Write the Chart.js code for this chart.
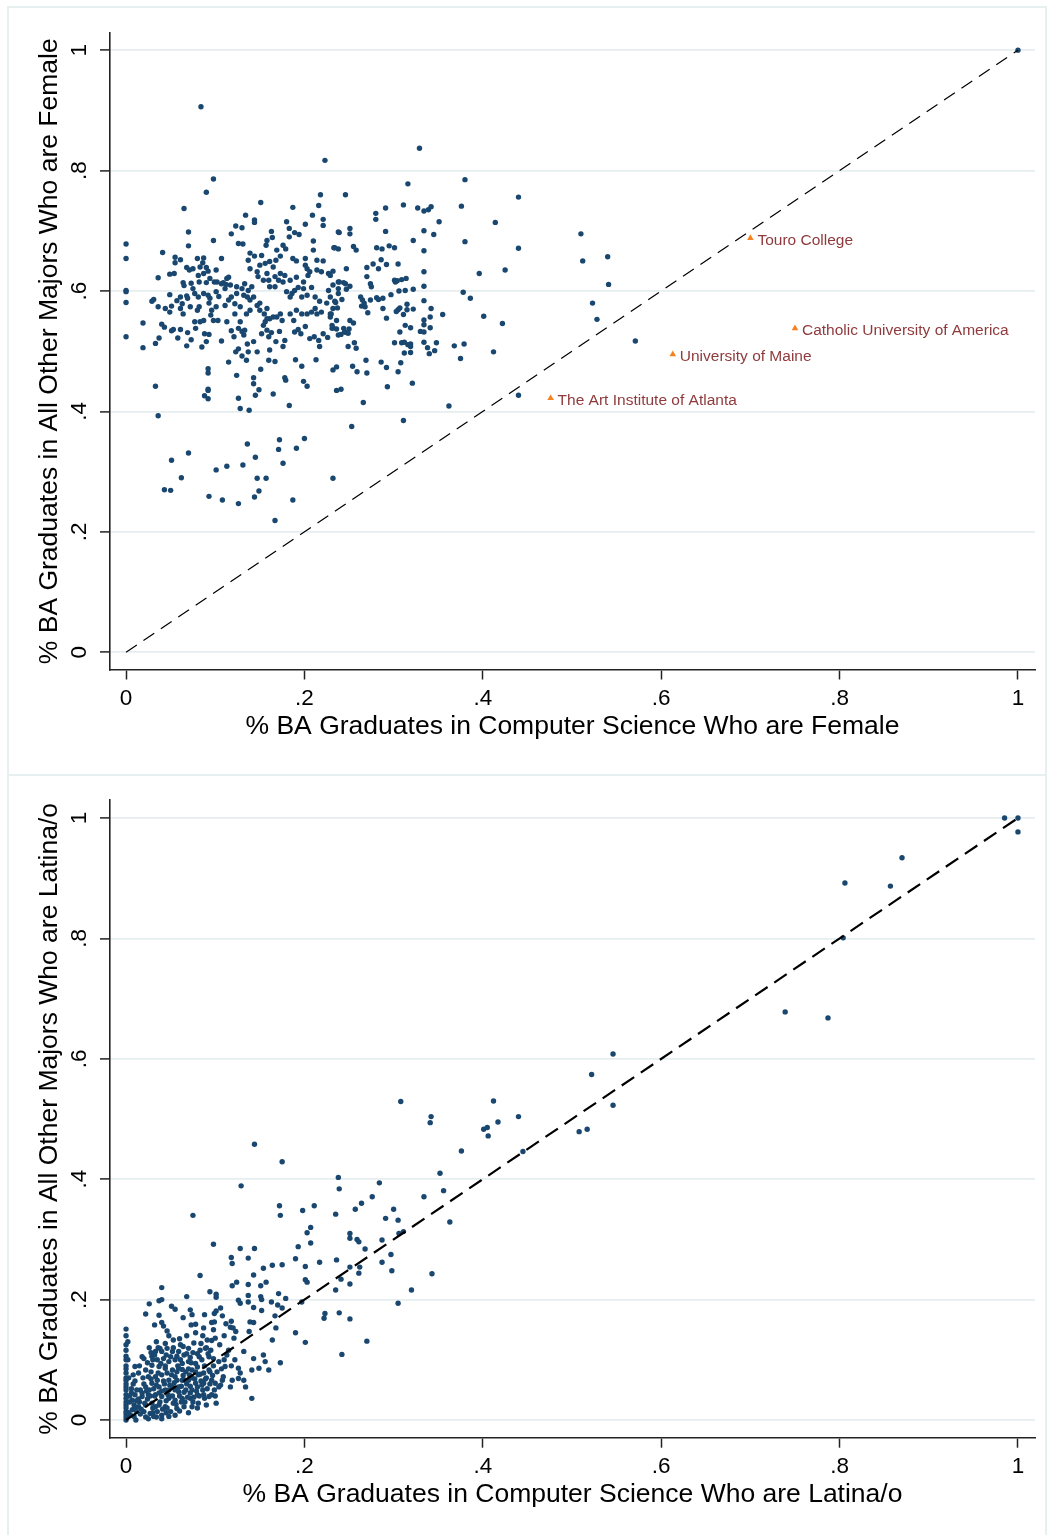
<!DOCTYPE html>
<html><head><meta charset="utf-8">
<script src="https://cdn.jsdelivr.net/npm/chart.js@4/dist/chart.umd.min.js"></script>
<style>
html,body{margin:0;padding:0;background:#fff;width:1048px;height:1535px;overflow:hidden}
.panel{position:absolute;left:7px;width:1040px;border:2px solid #e8eff1;box-sizing:border-box}
#p1{top:6px;height:770px}
#p2{top:774px;height:770px}
canvas{position:absolute;left:0}
#c1{top:0}
#c2{top:774px}
</style></head>
<body>
<div class="panel" id="p1"></div>
<div class="panel" id="p2"></div>
<canvas id="c1" width="1048" height="774"></canvas>
<canvas id="c2" width="1048" height="761"></canvas>
<script>
// ---------- DATA ----------
const tickValues = [0, 0.2, 0.4, 0.6, 0.8, 1];
const tickLabels = ["0", ".2", ".4", ".6", ".8", "1"];
const diagX = [0, 1];
const diagY = [0, 1];

// Panel 1: share female in CS (x) vs share female in all other majors (y)
const femalePoints = [
[0.223,0.817],[0.098,0.786],[0.090,0.764],[0.065,0.737],[0.218,0.760],[0.216,0.742],[0.187,0.739],[0.151,0.747],[0.134,0.726],[0.144,0.718],
[0.144,0.714],[0.209,0.726],[0.221,0.719],[0.221,0.709],[0.180,0.715],[0.183,0.704],[0.189,0.697],[0.194,0.694],[0.183,0.690],[0.201,0.711],
[0.123,0.708],[0.130,0.705],[0.118,0.695],[0.163,0.699],[0.164,0.689],[0.070,0.698],[0.070,0.675],[0.098,0.684],[0,0.678],[0,0.654],
[0,0.601],[0,0.599],[0,0.581],[0,0.524],[0.041,0.664],[0.158,0.684],[0.157,0.676],[0.126,0.679],[0.131,0.678],[0.055,0.656],
[0.061,0.652],[0.055,0.647],[0.080,0.654],[0.087,0.655],[0.086,0.647],[0.107,0.654],[0.137,0.651],[0.139,0.663],[0.144,0.658],[0.152,0.659],
[0.169,0.668],[0.173,0.658],[0.168,0.651],[0.176,0.676],[0.179,0.670],[0.187,0.654],[0.191,0.650],[0.201,0.654],[0.201,0.643],[0.203,0.637],
[0.210,0.683],[0.210,0.668],[0.214,0.651],[0.221,0.650],[0.233,0.672],[0.238,0.670],[0.238,0.698],[0.068,0.639],[0.071,0.635],[0.075,0.637],
[0.083,0.640],[0.090,0.639],[0.092,0.633],[0.101,0.635],[0.036,0.622],[0.049,0.628],[0.054,0.629],[0.081,0.626],[0.087,0.629],[0.082,0.615],
[0.094,0.621],[0.099,0.615],[0.090,0.614],[0.064,0.614],[0.065,0.609],[0.073,0.613],[0.113,0.621],[0.115,0.623],[0.109,0.614],[0.112,0.611],
[0.029,0.583],[0.031,0.586],[0.036,0.574],[0.044,0.571],[0.049,0.565],[0.051,0.575],[0.057,0.584],[0.061,0.590],[0.063,0.579],[0.064,0.562],
[0.061,0.571],[0.049,0.594],[0.068,0.592],[0.069,0.588],[0.072,0.574],[0.080,0.568],[0.082,0.574],[0.077,0.549],[0.083,0.549],[0.087,0.551],
[0.092,0.593],[0.094,0.588],[0.093,0.580],[0.101,0.599],[0.104,0.591],[0.101,0.574],[0.095,0.560],[0.098,0.551],[0.103,0.551],[0.096,0.568],
[0.019,0.547],[0.040,0.545],[0.043,0.540],[0.051,0.534],[0.053,0.536],[0.061,0.536],[0.058,0.522],[0.037,0.522],[0.033,0.513],[0.019,0.506],
[0.069,0.531],[0.073,0.519],[0.068,0.509],[0.078,0.538],[0.085,0.507],[0.090,0.516],[0.088,0.529],[0.093,0.528],[0.107,0.517],[0.113,0.549],
[0.115,0.482],[0.124,0.460],[0.092,0.471],[0.092,0.464],[0.033,0.442],[0.092,0.437],[0.118,0.534],[0.121,0.524],[0.126,0.538],[0.130,0.533],
[0.133,0.535],[0.132,0.527],[0.128,0.549],[0.122,0.562],[0.123,0.499],[0.126,0.504],[0.130,0.492],[0.136,0.512],[0.137,0.499],[0.135,0.485],
[0.143,0.516],[0.147,0.499],[0.151,0.470],[0.143,0.456],[0.143,0.446],[0.139,0.568],[0.135,0.562],[0.147,0.576],[0.150,0.580],[0.150,0.568],
[0.155,0.562],[0.158,0.571],[0.156,0.549],[0.154,0.543],[0.158,0.554],[0.161,0.554],[0.165,0.557],[0.169,0.557],[0.173,0.562],[0.175,0.551],
[0.152,0.529],[0.158,0.535],[0.160,0.524],[0.163,0.531],[0.168,0.516],[0.172,0.533],[0.161,0.502],[0.160,0.485],[0.167,0.483],[0.176,0.508],
[0.178,0.518],[0.178,0.456],[0.190,0.486],[0.197,0.475],[0.199,0.450],[0.203,0.442],[0.213,0.486],[0.189,0.532],[0.193,0.536],[0.196,0.529],
[0.201,0.541],[0.206,0.521],[0.211,0.524],[0.216,0.518],[0.217,0.508],[0.221,0.529],[0.226,0.523],[0.231,0.538],[0.232,0.469],[0.236,0.474],
[0.184,0.562],[0.188,0.551],[0.191,0.568],[0.197,0.562],[0.203,0.562],[0.208,0.565],[0.212,0.571],[0.214,0.562],[0.219,0.565],[0.229,0.562],
[0.180,0.599],[0.186,0.596],[0.189,0.601],[0.184,0.590],[0.193,0.606],[0.199,0.604],[0.197,0.590],[0.203,0.593],[0.208,0.606],[0.212,0.590],
[0.217,0.583],[0.225,0.580],[0.227,0.601],[0.232,0.610],[0.238,0.615],[0.184,0.618],[0.191,0.623],[0.199,0.615],[0.204,0.626],[0.206,0.632],
[0.214,0.635],[0.219,0.632],[0.227,0.629],[0.139,0.637],[0.147,0.632],[0.148,0.624],[0.154,0.618],[0.160,0.618],[0.161,0.607],[0.167,0.607],
[0.171,0.618],[0.176,0.615],[0.173,0.629],[0.178,0.626],[0.167,0.624],[0.158,0.629],[0.150,0.643],[0.156,0.646],[0.165,0.640],[0.161,0.649],
[0.124,0.607],[0.130,0.604],[0.133,0.612],[0.137,0.601],[0.141,0.607],[0.132,0.593],[0.136,0.590],[0.143,0.590],[0.139,0.585],[0.124,0.596],
[0.118,0.590],[0.115,0.585],[0.111,0.576],[0.122,0.579],[0.128,0.574],[0.107,0.612],[0.111,0.604],[0.117,0.610],[0.102,0.615],[0.077,0.596],
[0.081,0.590],[0.087,0.596],[0.075,0.604],[0.229,0.590],[0.234,0.583],[0.238,0.604],[0.232,0.571],[0.236,0.551],[0.231,0.543],
[0.329,0.837],[0.380,0.785],[0.316,0.778],[0.440,0.756],[0.246,0.760],[0.291,0.738],[0.280,0.729],[0.280,0.719],[0.311,0.743],[0.327,0.738],
[0.334,0.733],[0.339,0.735],[0.342,0.740],[0.376,0.741],[0.351,0.715],[0.414,0.714],[0.239,0.697],[0.251,0.704],[0.251,0.695],[0.291,0.699],
[0.334,0.700],[0.345,0.694],[0.322,0.684],[0.380,0.682],[0.440,0.671],[0.234,0.672],[0.255,0.674],[0.258,0.668],[0.281,0.672],[0.287,0.670],
[0.295,0.675],[0.301,0.672],[0.334,0.667],[0.286,0.652],[0.277,0.645],[0.270,0.639],[0.283,0.637],[0.292,0.644],[0.305,0.645],[0.247,0.637],
[0.232,0.633],[0.229,0.626],[0.334,0.632],[0.425,0.635],[0.396,0.629],[0.270,0.624],[0.239,0.615],[0.244,0.614],[0.246,0.612],[0.251,0.608],
[0.247,0.603],[0.274,0.612],[0.275,0.607],[0.301,0.618],[0.304,0.617],[0.309,0.619],[0.314,0.621],[0.302,0.615],[0.334,0.608],[0.306,0.600],
[0.313,0.601],[0.322,0.603],[0.378,0.598],[0.386,0.588],[0.297,0.594],[0.288,0.588],[0.281,0.589],[0.283,0.586],[0.274,0.585],[0.263,0.590],
[0.265,0.585],[0.267,0.580],[0.264,0.575],[0.268,0.574],[0.271,0.564],[0.238,0.596],[0.235,0.581],[0.237,0.572],[0.242,0.586],[0.230,0.562],
[0.229,0.557],[0.288,0.571],[0.292,0.555],[0.334,0.584],[0.303,0.566],[0.305,0.569],[0.307,0.572],[0.311,0.561],[0.315,0.578],[0.315,0.569],
[0.322,0.570],[0.342,0.571],[0.355,0.561],[0.401,0.558],[0.422,0.546],[0.341,0.557],[0.334,0.552],[0.334,0.544],[0.341,0.539],[0.330,0.533],
[0.334,0.532],[0.313,0.543],[0.319,0.539],[0.307,0.532],[0.251,0.551],[0.255,0.547],[0.232,0.539],[0.236,0.537],[0.244,0.538],[0.245,0.532],
[0.250,0.537],[0.238,0.527],[0.247,0.531],[0.249,0.530],[0.241,0.528],[0.256,0.514],[0.258,0.505],[0.249,0.508],[0.301,0.514],[0.309,0.514],
[0.312,0.515],[0.316,0.511],[0.319,0.512],[0.319,0.508],[0.312,0.497],[0.319,0.498],[0.334,0.515],[0.338,0.506],[0.340,0.496],[0.346,0.501],
[0.348,0.514],[0.368,0.509],[0.379,0.512],[0.375,0.488],[0.412,0.499],[0.269,0.485],[0.254,0.475],[0.259,0.466],[0.270,0.464],[0.286,0.482],
[0.292,0.473],[0.305,0.466],[0.308,0.481],[0.321,0.447],[0.293,0.441],[0.241,0.437],
[0.036,0.393],[0.088,0.426],[0.092,0.435],[0.092,0.421],[0.126,0.422],[0.128,0.405],[0.138,0.402],[0.145,0.427],[0.149,0.436],[0.165,0.429],
[0.183,0.410],[0.179,0.452],[0.236,0.435],[0.266,0.415],[0.311,0.385],[0.253,0.375],[0.362,0.409],[0.051,0.319],[0.070,0.331],[0.062,0.290],
[0.043,0.270],[0.050,0.269],[0.101,0.303],[0.113,0.309],[0.131,0.311],[0.136,0.346],[0.145,0.324],[0.147,0.289],[0.157,0.289],[0.172,0.353],
[0.171,0.337],[0.176,0.314],[0.191,0.339],[0.200,0.355],[0.232,0.289],[0.093,0.259],[0.108,0.253],[0.126,0.247],[0.144,0.258],[0.149,0.268],
[0.187,0.253],[0.167,0.219],
[0.084,0.906],[1.0,1.0],[0.510,0.695],[0.512,0.650],[0.540,0.657],[0.541,0.611],[0.523,0.580],[0.528,0.553],[0.571,0.517],[0.440,0.427]
];

// Labelled outliers in panel 1
const highlightNames = ["Touro College", "Catholic University of America", "University of Maine", "The Art Institute of Atlanta"];
const highlightCS = [0.700, 0.750, 0.613, 0.476];
const highlightOther = [0.688, 0.538, 0.495, 0.422];

// Panel 2: share Latina/o in CS (x) vs share Latina/o in all other majors (y)
const latinxPoints = [
[0.546,0.608],[0.522,0.574],[0.546,0.523],[0.508,0.479],[0.517,0.483],[0.308,0.529],[0.342,0.504],[0.341,0.494],[0.412,0.530],[0.401,0.483],
[0.405,0.486],[0.406,0.472],[0.417,0.495],[0.440,0.504],[0.445,0.446],[0.376,0.447],[0.352,0.410],[0.356,0.381],[0.334,0.371],[0.363,0.329],
[0.300,0.350],[0.291,0.335],[0.305,0.332],[0.306,0.310],[0.311,0.313],[0.287,0.299],[0.284,0.394],[0.297,0.275],[0.287,0.262],[0.298,0.248],
[0.343,0.243],[0.320,0.216],[0.305,0.194],
[0.144,0.458],[0.175,0.429],[0.129,0.389],[0.075,0.340],[0.238,0.403],[0.239,0.384],[0.276,0.371],[0.264,0.360],[0.257,0.350],[0.172,0.356],
[0.173,0.340],[0.198,0.348],[0.211,0.356],[0.235,0.342],[0.207,0.320],[0.203,0.311],[0.207,0.294],[0.193,0.288],[0.190,0.268],[0.251,0.310],
[0.251,0.302],[0.259,0.300],[0.261,0.296],[0.268,0.284],[0.098,0.292],[0.118,0.270],[0.119,0.260],[0.128,0.285],[0.137,0.269],[0.144,0.285],
[0.083,0.240],[0.154,0.252],[0.164,0.257],[0.175,0.258],[0.201,0.255],[0.217,0.262],[0.236,0.266],[0.143,0.241],[0.157,0.229],[0.151,0.223],
[0.137,0.225],[0.124,0.229],[0.119,0.223],[0.201,0.233],[0.203,0.229],[0.251,0.254],[0.241,0.234],[0.251,0.226],[0.262,0.254],[0.261,0.244],
[0.235,0.216],[0.068,0.205],[0.094,0.213],[0.101,0.209],[0.101,0.204],[0.126,0.199],[0.128,0.194],[0.137,0.207],[0.137,0.196],[0.151,0.205],
[0.152,0.200],[0.163,0.196],[0.170,0.191],[0.171,0.210],[0.179,0.202],[0.197,0.196],[0.072,0.183],[0.074,0.175],[0.106,0.186],[0.099,0.177],
[0.101,0.181],[0.108,0.173],[0.143,0.187],[0.152,0.182],[0.175,0.186],[0.167,0.173],[0.223,0.177],[0.222,0.169],[0.239,0.178],[0.251,0.168],
[0.078,0.159],[0.087,0.153],[0.096,0.162],[0.099,0.163],[0.118,0.164],[0.117,0.154],[0.120,0.153],[0.139,0.163],[0.143,0.162],[0.168,0.153],
[0.190,0.145],[0.201,0.129],[0.270,0.131],[0.242,0.109],
[0.040,0.220],[0.040,0.200],[0.037,0.198],[0.026,0.193],[0.051,0.189],[0.055,0.184],[0.022,0.176],[0.037,0.174],[0.032,0.158],[0.040,0.162],
[0.042,0.156],[0.046,0.148],[0,0.151],[0.053,0.133],[0.044,0.127],[0.038,0.119],[0.028,0.112],[0.020,0.102],[0.010,0.089],
[0,0.116],[0,0.106],[0,0.090],[0,0.078],[0,0.066],[0,0.055],[0,0.042],[0,0.025],[0,0.014],[0,0.0],[0,0.125],[0,0.140],[0,0.030],[0,0.010],
[0,0.050],[0,0.070],[0,0.085],[0,0.100],[0,0.005],[0,0.020],[0,0.036],[0,0.060],
[0.061,0.125],[0.070,0.119],[0.076,0.128],[0.084,0.127],[0.091,0.133],[0.096,0.132],[0.100,0.136],[0.083,0.116],[0.089,0.119],[0.095,0.116],
[0.080,0.110],[0.072,0.104],[0.065,0.108],[0.059,0.114],[0.052,0.114],[0.046,0.119],[0.040,0.114],[0.033,0.114],[0.029,0.106],[0.035,0.100],
[0.042,0.102],[0.048,0.097],[0.055,0.100],[0.063,0.094],[0.070,0.097],[0.078,0.094],[0.085,0.100],[0.093,0.105],[0.098,0.102],[0.104,0.097],
[0.093,0.083],[0.087,0.078],[0.081,0.075],[0.074,0.083],[0.067,0.080],[0.059,0.086],[0.052,0.083],[0.044,0.086],[0.037,0.089],[0.029,0.091],
[0.022,0.083],[0.014,0.078],[0.025,0.072],[0.033,0.072],[0.040,0.075],[0.048,0.066],[0.055,0.072],[0.063,0.066],[0.070,0.066],[0.078,0.061],
[0.087,0.061],[0.096,0.066],[0.100,0.061],[0.108,0.066],[0.104,0.055],[0.074,0.050],[0.067,0.050],[0.059,0.047],[0.052,0.055],[0.044,0.050],
[0.037,0.055],[0.029,0.061],[0.022,0.055],[0.016,0.050],[0.010,0.042],[0.018,0.039],[0.025,0.042],[0.033,0.042],[0.040,0.039],[0.048,0.036],
[0.055,0.033],[0.063,0.036],[0.072,0.036],[0.080,0.042],[0.087,0.042],[0.081,0.028],[0.074,0.022],[0.065,0.022],[0.057,0.019],[0.050,0.014],
[0.044,0.022],[0.037,0.025],[0.029,0.028],[0.022,0.025],[0.014,0.022],[0.009,0.025],[0.007,0.033],[0.012,0.014],[0.020,0.014],[0.027,0.011],
[0.035,0.014],[0.040,0.008],[0.048,0.006],[0.031,0.006],[0.005,0.008],[0.007,0.017],[0.011,0.0],
[0.015,0.030],[0.018,0.045],[0.020,0.060],[0.024,0.035],[0.026,0.050],[0.028,0.068],[0.030,0.020],[0.032,0.040],[0.034,0.058],[0.036,0.078],
[0.038,0.030],[0.040,0.048],[0.042,0.065],[0.044,0.090],[0.046,0.020],[0.047,0.042],[0.049,0.058],[0.051,0.075],[0.053,0.028],[0.055,0.050],
[0.057,0.066],[0.058,0.090],[0.060,0.040],[0.062,0.056],[0.064,0.074],[0.066,0.030],[0.068,0.060],[0.070,0.085],[0.072,0.045],[0.074,0.070],
[0.076,0.038],[0.078,0.080],[0.080,0.055],[0.082,0.105],[0.084,0.065],[0.086,0.050],[0.088,0.090],[0.090,0.070],[0.092,0.110],[0.094,0.080],
[0.012,0.050],[0.008,0.060],[0.006,0.045],[0.010,0.020],[0.004,0.030],[0.016,0.010],[0.022,0.005],[0.034,0.005],[0.045,0.012],[0.060,0.015],
[0.030,0.100],[0.026,0.120],[0.034,0.130],[0.048,0.140],[0.060,0.135],[0.068,0.140],[0.078,0.145],[0.086,0.140],[0.105,0.125],[0.110,0.140],
[0.098,0.150],[0.073,0.158],[0.064,0.170],[0.088,0.175],[0.112,0.160],[0.003,0.070],[0.002,0.100],[0.002,0.130],
[0.003,0.012],[0.009,0.006],[0.014,0.035],[0.017,0.018],[0.019,0.070],[0.021,0.028],[0.023,0.048],[0.027,0.040],[0.028,0.080],[0.031,0.052],
[0.033,0.022],[0.035,0.066],[0.037,0.045],[0.039,0.094],[0.041,0.018],[0.043,0.060],[0.045,0.032],[0.046,0.078],[0.048,0.050],[0.050,0.105],
[0.052,0.040],[0.054,0.062],[0.056,0.026],[0.057,0.080],[0.059,0.055],[0.061,0.100],[0.062,0.030],[0.063,0.084],[0.065,0.046],[0.066,0.066],
[0.068,0.110],[0.069,0.038],[0.071,0.075],[0.072,0.056],[0.073,0.095],[0.075,0.030],[0.077,0.068],[0.079,0.048],[0.080,0.088],[0.082,0.040],
[0.083,0.076],[0.085,0.058],[0.088,0.036],[0.089,0.068],[0.091,0.052],[0.094,0.060],[0.097,0.074],[0.099,0.050],[0.102,0.080],[0.106,0.058],
[0.010,0.065],[0.012,0.032],[0.006,0.052],[0.004,0.040],[0.008,0.075],[0.015,0.090],[0.018,0.105],[0.024,0.095],[0.032,0.108],[0.036,0.120],
[0.045,0.108],[0.053,0.120],[0.057,0.106],[0.064,0.122],[0.075,0.112],[0.090,0.120],[0.098,0.090],[0.107,0.085],[0.110,0.100],[0.118,0.090],
[0.122,0.100],[0.128,0.078],[0.030,0.012],[0.025,0.002],[0.040,0.002],[0.055,0.008],[0.070,0.012],[0.080,0.020],[0.090,0.025],[0.100,0.040],
[0.115,0.116],[0.113,0.108],[0.111,0.089],[0.109,0.072],[0.119,0.066],[0.126,0.069],[0.132,0.066],[0.134,0.055],[0.117,0.055],[0.141,0.036],
[0.101,0.028],[0.093,0.039],[0.096,0.042],[0.126,0.086],[0.141,0.083],[0.149,0.086],[0.156,0.097],[0.160,0.083],[0.173,0.095],[0.132,0.114],
[0.143,0.102],[0.154,0.108],[0.164,0.133],[0.121,0.136],[0.123,0.147],[0.138,0.147],
[0.985,1.0],[1.0,1.0],[1.0,0.977],[0.806,0.892],[0.857,0.887],[0.870,0.934],[0.804,0.801],[0.739,0.678],[0.787,0.668]
];

const titles = {
  femaleX: "% BA Graduates in Computer Science Who are Female",
  femaleY: "% BA Graduates in All Other Majors Who are Female",
  latinxX: "% BA Graduates in Computer Science Who are Latina/o",
  latinxY: "% BA Graduates in All Other Majors Who are Latina/o"
};

// ---------- STYLE ----------
const FONT = '"Liberation Sans", Arial, Helvetica, sans-serif';
const NAVY = '#1a476f';
const AXIS = '#222222';
const GRID = '#e6eef0';

const yTickLabelPlugin = {
  id: 'yTickLabels',
  afterDraw(chart) {
    const s = chart.scales.y, ctx = chart.ctx;
    ctx.save();
    ctx.font = '22.5px ' + FONT;
    ctx.fillStyle = '#000';
    ctx.textAlign = 'center';
    ctx.textBaseline = 'middle';
    s.ticks.forEach((t, i) => {
      const py = s.getPixelForValue(t.value);
      ctx.save();
      ctx.translate(s.right - 30, py);
      ctx.rotate(-Math.PI / 2);
      ctx.fillText(tickLabels[i], 0, 0);
      ctx.restore();
    });
    ctx.restore();
  }
};

const pointLabelPlugin = {
  id: 'pointLabels',
  afterDatasetsDraw(chart) {
    chart.data.datasets.forEach((ds, di) => {
      if (!ds.names) return;
      const meta = chart.getDatasetMeta(di);
      const ctx = chart.ctx;
      ctx.save();
      ctx.font = '15.5px ' + FONT;
      ctx.fillStyle = '#8f3a3c';
      ctx.textAlign = 'left';
      ctx.textBaseline = 'middle';
      meta.data.forEach((el, i) => ctx.fillText(ds.names[i], el.x + 7, el.y + 2.5));
      ctx.restore();
    });
  }
};

function makeChart(canvasId, cfg) {
  const datasets = [
    {
      type: 'scatter',
      data: cfg.points.map(p => ({x: p[0], y: p[1]})),
      backgroundColor: NAVY, borderWidth: 0, pointRadius: 2.7, order: 2
    },
    {
      type: 'line',
      data: diagX.map((x, i) => ({x: x, y: diagY[i]})),
      borderColor: '#000', borderWidth: cfg.dashWidth, borderDash: cfg.dash,
      pointRadius: 0, fill: false, tension: 0, order: 1
    }
  ];
  if (cfg.hlX) {
    datasets.push({
      type: 'scatter',
      data: cfg.hlX.map((x, i) => ({x: x, y: cfg.hlY[i]})),
      names: cfg.hlNames,
      pointStyle: 'triangle', backgroundColor: '#f5821f', borderColor: '#f5821f',
      borderWidth: 0, pointRadius: 3.8, order: 0
    });
  }
  return new Chart(document.getElementById(canvasId), {
    data: {datasets},
    plugins: [yTickLabelPlugin, pointLabelPlugin],
    options: {
      responsive: false, animation: false, events: [],
      layout: {padding: {left: 0, top: cfg.padTop, right: 13, bottom: 0}},
      plugins: {legend: {display: false}, tooltip: {enabled: false}},
      scales: {
        x: {
          type: 'linear', min: -0.018, max: 1.0191,
          afterFit(s) { s.height = cfg.xAxisH; },
          afterBuildTicks(s) { s.ticks = tickValues.map(v => ({value: v})); },
          grid: {drawOnChartArea: false, drawTicks: true, tickLength: 10, tickColor: AXIS, tickWidth: 1.5},
          border: {display: true, color: AXIS, width: 1.6},
          ticks: {callback: (v, i) => tickLabels[i], font: {size: 22.5, family: FONT}, color: '#000',
                  padding: 6, maxRotation: 0, minRotation: 0, autoSkip: false},
          title: {display: true, text: cfg.xTitle, font: {size: 26.5, family: FONT}, color: '#000',
                  padding: {top: 0, bottom: cfg.xTitlePad}}
        },
        y: {
          type: 'linear', min: cfg.yMin, max: cfg.yMax,
          afterFit(s) { s.width = 110; },
          afterBuildTicks(s) { s.ticks = tickValues.map(v => ({value: v})); },
          grid: {color: GRID, lineWidth: 1.8, drawTicks: true, tickLength: 10, tickColor: AXIS, tickWidth: 1.5},
          border: {display: true, color: AXIS, width: 1.6},
          ticks: {display: false},
          title: {display: true, text: cfg.yTitle, font: {size: 26.5, family: FONT}, color: '#000',
                  padding: {top: 34, bottom: 0}}
        }
      }
    }
  });
}

makeChart('c1', {
  points: femalePoints, hlX: highlightCS, hlY: highlightOther, hlNames: highlightNames,
  xTitle: titles.femaleX, yTitle: titles.femaleY,
  padTop: 33, xAxisH: 104.5, xTitlePad: 31.6, yMin: -0.0285, yMax: 1.0285,
  dash: [13, 8], dashWidth: 1.2
});
makeChart('c2', {
  points: latinxPoints,
  xTitle: titles.latinxX, yTitle: titles.latinxY,
  padTop: 26, xAxisH: 97.3, xTitlePad: 24, yMin: -0.0294, yMax: 1.030,
  dash: [15, 8], dashWidth: 2.2
});
</script>
</body></html>
